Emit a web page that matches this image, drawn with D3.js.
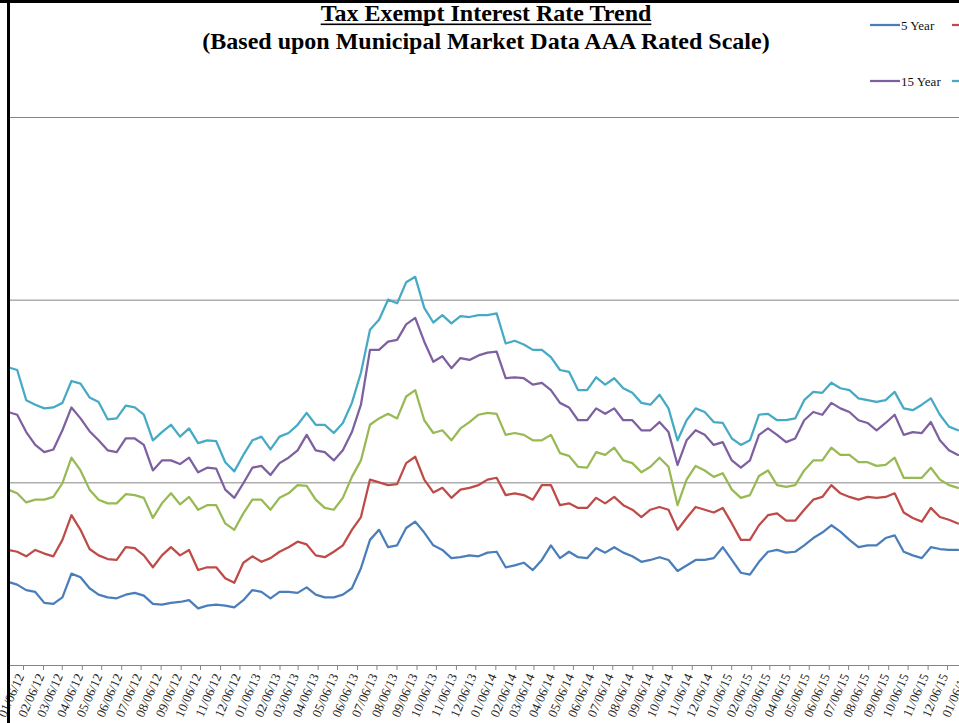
<!DOCTYPE html>
<html>
<head>
<meta charset="utf-8">
<script src="https://cdn.jsdelivr.net/npm/d3@7"></script>
<style>
  body { margin: 0; background: #fff; }
  svg { display: block; font-family: "Liberation Serif", "Times New Roman", serif; }
</style>
</head>
<body>
<svg id="chart"></svg>
<script>
// MMD AAA scale yields, sampled every two weeks from the start date
const startDate = "2011-12-14";
const stepDays = 14;

const seriesNames = ["5 Year", "7 Year", "10 Year", "15 Year", "30 Year"];
const seriesColors = ["#4a7ebb", "#be4b48", "#98b954", "#7d60a0", "#46aac5"];

const fiveYear = [0.91,0.88,0.82,0.80,0.68,0.67,0.74,1.00,0.96,0.84, 0.77,0.74,0.73,0.77,0.79,0.76,0.67,0.66,0.68,0.69,
  0.71,0.62,0.65,0.66,0.65,0.63,0.71,0.82,0.80,0.73, 0.80,0.80,0.79,0.85,0.77,0.74,0.74,0.77,0.84,1.06,
  1.37,1.48,1.29,1.31,1.50,1.57,1.45,1.31,1.26,1.17, 1.18,1.20,1.19,1.23,1.24,1.07,1.09,1.12,1.04,1.15,
  1.31,1.17,1.24,1.18,1.17,1.28,1.23,1.29,1.23,1.19, 1.13,1.15,1.18,1.15,1.03,1.09,1.15,1.15,1.17,1.29,
  1.15,1.01,0.99,1.13,1.24,1.26,1.23,1.24,1.31,1.39, 1.45,1.53,1.46,1.37,1.29,1.31,1.31,1.39,1.42,1.24,
  1.20,1.17,1.29,1.27,1.26,1.26];

const sevenYear = [1.26,1.24,1.19,1.26,1.22,1.19,1.37,1.64,1.48,1.27, 1.20,1.16,1.15,1.29,1.28,1.20,1.07,1.20,1.29,1.20,
  1.26,1.04,1.07,1.07,0.95,0.90,1.12,1.19,1.13,1.17, 1.24,1.29,1.35,1.32,1.20,1.18,1.24,1.31,1.48,1.62,
  2.03,2.00,1.97,1.98,2.21,2.28,2.03,1.89,1.94,1.83, 1.92,1.94,1.97,2.03,2.05,1.86,1.88,1.86,1.81,1.97,
  1.97,1.75,1.77,1.72,1.72,1.83,1.77,1.84,1.75,1.70, 1.62,1.70,1.73,1.70,1.48,1.61,1.73,1.70,1.67,1.72,
  1.55,1.37,1.37,1.53,1.64,1.66,1.58,1.58,1.70,1.81, 1.84,1.97,1.88,1.84,1.81,1.84,1.83,1.84,1.88,1.67,
  1.61,1.57,1.72,1.62,1.59,1.55];

const tenYear = [1.92,1.88,1.78,1.81,1.81,1.84,1.99,2.27,2.13,1.92, 1.81,1.77,1.77,1.87,1.86,1.83,1.61,1.77,1.88,1.76,
  1.84,1.70,1.75,1.75,1.55,1.48,1.66,1.81,1.81,1.70, 1.83,1.88,1.97,1.96,1.81,1.72,1.70,1.83,2.06,2.24,
  2.63,2.70,2.75,2.70,2.94,3.01,2.68,2.54,2.57,2.46, 2.59,2.66,2.74,2.76,2.75,2.52,2.54,2.52,2.46,2.46,
  2.52,2.32,2.29,2.17,2.16,2.33,2.30,2.38,2.24,2.21, 2.11,2.17,2.27,2.17,1.75,2.03,2.18,2.13,2.06,2.10,
  1.92,1.83,1.86,2.07,2.13,1.97,1.95,1.97,2.13,2.24, 2.24,2.38,2.30,2.30,2.22,2.22,2.18,2.19,2.27,2.05,
  2.05,2.05,2.16,2.03,1.97,1.94];

const fifteenYear = [2.77,2.74,2.55,2.41,2.33,2.36,2.57,2.82,2.70,2.56, 2.46,2.35,2.33,2.48,2.48,2.41,2.13,2.24,2.24,2.20,
  2.27,2.11,2.16,2.15,1.92,1.83,1.99,2.16,2.18,2.08, 2.21,2.27,2.35,2.52,2.35,2.33,2.24,2.35,2.55,2.85,
  3.45,3.45,3.54,3.56,3.73,3.80,3.54,3.32,3.38,3.25, 3.36,3.34,3.39,3.42,3.43,3.14,3.15,3.14,3.07,3.09,
  3.01,2.87,2.82,2.68,2.68,2.81,2.75,2.81,2.68,2.68, 2.57,2.57,2.66,2.55,2.19,2.46,2.57,2.52,2.41,2.44,
  2.24,2.16,2.24,2.52,2.59,2.52,2.44,2.48,2.68,2.77, 2.74,2.87,2.81,2.77,2.68,2.65,2.57,2.65,2.74,2.52,
  2.55,2.54,2.66,2.46,2.35,2.30];

const thirtyYear = [3.26,3.23,2.90,2.85,2.81,2.82,2.87,3.11,3.08,2.93, 2.88,2.69,2.70,2.84,2.82,2.74,2.46,2.55,2.63,2.50,
  2.59,2.43,2.46,2.45,2.22,2.12,2.30,2.46,2.50,2.36, 2.50,2.54,2.63,2.76,2.63,2.63,2.54,2.65,2.87,3.20,
  3.67,3.78,4.00,3.96,4.19,4.25,3.91,3.75,3.83,3.74, 3.82,3.81,3.83,3.83,3.85,3.52,3.55,3.51,3.45,3.45,
  3.37,3.23,3.21,3.01,3.01,3.15,3.07,3.14,3.03,2.98, 2.87,2.85,2.96,2.81,2.46,2.68,2.81,2.77,2.66,2.65,
  2.48,2.41,2.46,2.74,2.75,2.68,2.68,2.70,2.90,2.99, 2.98,3.09,3.03,3.01,2.92,2.90,2.88,2.90,2.99,2.81,
  2.79,2.85,2.92,2.74,2.61,2.57];

const gridValues = [2, 4, 6];

const tickLabels = ["01/06/12","02/06/12","03/06/12","04/06/12","05/06/12","06/06/12","07/06/12","08/06/12",
  "09/06/12","10/06/12","11/06/12","12/06/12","01/06/13","02/06/13","03/06/13","04/06/13","05/06/13",
  "06/06/13","07/06/13","08/06/13","09/06/13","10/06/13","11/06/13","12/06/13","01/06/14","02/06/14",
  "03/06/14","04/06/14","05/06/14","06/06/14","07/06/14","08/06/14","09/06/14","10/06/14","11/06/14",
  "12/06/14","01/06/15","02/06/15","03/06/15","04/06/15","05/06/15","06/06/15","07/06/15","08/06/15",
  "09/06/15","10/06/15","11/06/15","12/06/15","01/06/16"];

const allSeries = [fiveYear, sevenYear, tenYear, fifteenYear, thirtyYear];

document.addEventListener("DOMContentLoaded", () => {
  drawChart();
});

function drawChart() {
  const svgWidth = 959, svgHeight = 723;
  const plotLeft = 8, plotRight = 959, axisY = 665;
  const parseTick = d3.timeParse("%m/%d/%y");
  const tickDates = tickLabels.map(parseTick);
  const start = d3.timeParse("%Y-%m-%d")(startDate);
  const dates = fiveYear.map((d, i) => d3.timeDay.offset(start, i * stepDays));

  const svg = d3.select("#chart")
    .attr("width", svgWidth)
    .attr("height", svgHeight);

  const x = d3.scaleTime()
    .domain([tickDates[0], tickDates[tickDates.length - 2]])
    .range([23, 947]);

  const y = d3.scaleLinear()
    .domain([0, 6])
    .range([axisY, 117]);

  // horizontal gridlines
  svg.append("g")
    .attr("transform", `translate(${plotLeft}, 0)`)
    .call(d3.axisLeft(y).tickValues(gridValues).tickSize(-(plotRight - plotLeft)).tickFormat(""))
    .call(g => g.select(".domain").remove())
    .selectAll("line")
    .attr("stroke", "#858585")
    .attr("stroke-width", 1);

  // date axis
  const xAxis = svg.append("g")
    .attr("transform", `translate(0, ${axisY})`)
    .call(d3.axisBottom(x).tickValues(tickDates).tickSize(5).tickFormat(d3.timeFormat("%m/%d/%y")));

  xAxis.select(".domain").remove();
  xAxis.selectAll(".tick line").attr("stroke", "#858585");
  xAxis.selectAll("text")
    .attr("y", 0)
    .attr("dy", 0)
    .attr("text-anchor", "end")
    .attr("transform", "translate(1, 11) rotate(-66)")
    .attr("font-family", "Liberation Serif")
    .attr("font-size", 13)
    .attr("fill", "#222");

  svg.append("line")
    .attr("x1", plotLeft).attr("x2", plotRight)
    .attr("y1", axisY + 0.5).attr("y2", axisY + 0.5)
    .attr("stroke", "#858585");

  // series lines
  const line = d3.line()
    .x((d, i) => x(dates[i]))
    .y(d => y(d));

  svg.append("g")
    .selectAll("path")
    .data(allSeries)
    .join("path")
    .attr("fill", "none")
    .attr("stroke", (d, i) => seriesColors[i])
    .attr("stroke-width", 2.25)
    .attr("stroke-linejoin", "round")
    .attr("stroke-linecap", "round")
    .attr("d", line);

  // frame borders
  svg.append("rect").attr("x", 0).attr("y", 0).attr("width", svgWidth).attr("height", 3).attr("fill", "#000");
  svg.append("rect").attr("x", 7).attr("y", 0).attr("width", 3).attr("height", svgHeight).attr("fill", "#000");

  // title
  const title = svg.append("text")
    .attr("x", 486)
    .attr("y", 21)
    .attr("text-anchor", "middle")
    .attr("font-weight", "bold")
    .attr("font-size", 24)
    .text("Tax Exempt Interest Rate Trend");
  const tw = title.node().getComputedTextLength();
  svg.append("rect")
    .attr("x", 486 - tw / 2).attr("y", 23.5)
    .attr("width", tw).attr("height", 1.6)
    .attr("fill", "#000");

  svg.append("text")
    .attr("x", 486)
    .attr("y", 49)
    .attr("text-anchor", "middle")
    .attr("font-weight", "bold")
    .attr("font-size", 24)
    .text("(Based upon Municipal Market Data AAA Rated Scale)");

  // legend, three columns by two rows
  const legend = svg.append("g")
    .selectAll("g")
    .data(seriesNames)
    .join("g")
    .attr("transform", (d, i) => `translate(${870 + (i % 3) * 82}, ${25 + Math.floor(i / 3) * 56})`);

  legend.append("line")
    .attr("x1", 0).attr("x2", 30)
    .attr("stroke", (d, i) => seriesColors[i])
    .attr("stroke-width", 2.25);

  legend.append("text")
    .attr("x", 31)
    .attr("y", 5)
    .attr("font-size", 13)
    .attr("fill", "#111")
    .text(d => d);
}
</script>
</body>
</html>
